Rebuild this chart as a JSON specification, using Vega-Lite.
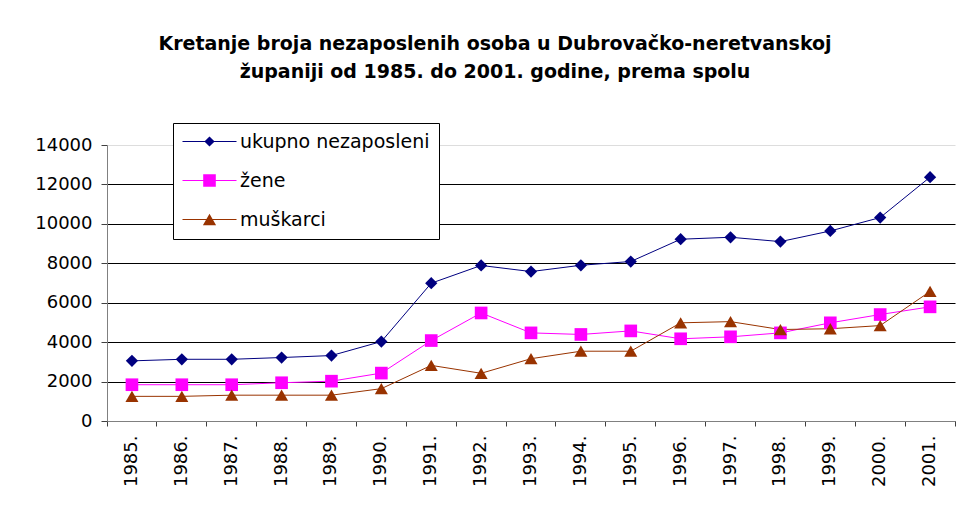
{
  "$schema": "https://vega.github.io/schema/vega-lite/v6.json",
  "autosize": {"type": "none"},
  "padding": {"left": 107, "top": 145, "right": 17, "bottom": 90},
  "width": 848,
  "height": 276,
  "background": "white",
  "title": {
    "text": ["Kretanje broja nezaposlenih osoba u Dubrovačko-neretvanskoj", "županiji od 1985. do 2001. godine, prema spolu"],
    "font": "DejaVu Sans",
    "fontSize": 19,
    "fontWeight": "bold",
    "color": "black",
    "lineHeight": 28,
    "anchor": "middle",
    "frame": "group",
    "dx": -36,
    "offset": 41
  },
  "config": {
    "view": {"stroke": null},
    "axis": {
      "labelFont": "DejaVu Sans",
      "labelFontSize": 18,
      "labelColor": "black",
      "domainColor": "#808080",
      "tickColor": "#404040",
      "title": null
    }
  },
  "data": {
    "values": [
      {"year": "1985.", "series": "ukupno nezaposleni", "value": 3050},
      {"year": "1986.", "series": "ukupno nezaposleni", "value": 3130},
      {"year": "1987.", "series": "ukupno nezaposleni", "value": 3130},
      {"year": "1988.", "series": "ukupno nezaposleni", "value": 3220},
      {"year": "1989.", "series": "ukupno nezaposleni", "value": 3320},
      {"year": "1990.", "series": "ukupno nezaposleni", "value": 4030},
      {"year": "1991.", "series": "ukupno nezaposleni", "value": 6990},
      {"year": "1992.", "series": "ukupno nezaposleni", "value": 7890},
      {"year": "1993.", "series": "ukupno nezaposleni", "value": 7580},
      {"year": "1994.", "series": "ukupno nezaposleni", "value": 7900},
      {"year": "1995.", "series": "ukupno nezaposleni", "value": 8090},
      {"year": "1996.", "series": "ukupno nezaposleni", "value": 9220},
      {"year": "1997.", "series": "ukupno nezaposleni", "value": 9320},
      {"year": "1998.", "series": "ukupno nezaposleni", "value": 9100},
      {"year": "1999.", "series": "ukupno nezaposleni", "value": 9640},
      {"year": "2000.", "series": "ukupno nezaposleni", "value": 10320},
      {"year": "2001.", "series": "ukupno nezaposleni", "value": 12370},
      {"year": "1985.", "series": "žene", "value": 1840},
      {"year": "1986.", "series": "žene", "value": 1840},
      {"year": "1987.", "series": "žene", "value": 1840},
      {"year": "1988.", "series": "žene", "value": 1940},
      {"year": "1989.", "series": "žene", "value": 2020},
      {"year": "1990.", "series": "žene", "value": 2430},
      {"year": "1991.", "series": "žene", "value": 4080},
      {"year": "1992.", "series": "žene", "value": 5480},
      {"year": "1993.", "series": "žene", "value": 4470},
      {"year": "1994.", "series": "žene", "value": 4390},
      {"year": "1995.", "series": "žene", "value": 4570},
      {"year": "1996.", "series": "žene", "value": 4170},
      {"year": "1997.", "series": "žene", "value": 4270},
      {"year": "1998.", "series": "žene", "value": 4470},
      {"year": "1999.", "series": "žene", "value": 4980},
      {"year": "2000.", "series": "žene", "value": 5400},
      {"year": "2001.", "series": "žene", "value": 5790},
      {"year": "1985.", "series": "muškarci", "value": 1250},
      {"year": "1986.", "series": "muškarci", "value": 1250},
      {"year": "1987.", "series": "muškarci", "value": 1310},
      {"year": "1988.", "series": "muškarci", "value": 1310},
      {"year": "1989.", "series": "muškarci", "value": 1310},
      {"year": "1990.", "series": "muškarci", "value": 1640},
      {"year": "1991.", "series": "muškarci", "value": 2820},
      {"year": "1992.", "series": "muškarci", "value": 2420},
      {"year": "1993.", "series": "muškarci", "value": 3160},
      {"year": "1994.", "series": "muškarci", "value": 3540},
      {"year": "1995.", "series": "muškarci", "value": 3540},
      {"year": "1996.", "series": "muškarci", "value": 4980},
      {"year": "1997.", "series": "muškarci", "value": 5040},
      {"year": "1998.", "series": "muškarci", "value": 4640},
      {"year": "1999.", "series": "muškarci", "value": 4680},
      {"year": "2000.", "series": "muškarci", "value": 4840},
      {"year": "2001.", "series": "muškarci", "value": 6570}
    ]
  },
  "encoding": {
    "x": {
      "field": "year",
      "type": "ordinal",
      "scale": {"type": "band", "paddingInner": 0, "paddingOuter": 0},
      "axis": {
        "labelAngle": -90,
        "labelPadding": 9,
        "tickSize": 5,
        "bandPosition": 1,
        "tickExtra": true,
        "grid": false
      }
    },
    "y": {
      "field": "value",
      "type": "quantitative",
      "scale": {"domain": [0, 14000], "nice": false},
      "axis": {
        "values": [0, 2000, 4000, 6000, 8000, 10000, 12000, 14000],
        "format": "d",
        "tickSize": 6,
        "labelPadding": 9,
        "grid": true,
        "gridColor": {"condition": {"test": "datum.value == 14000", "value": "#dddddd"}, "value": "black"},
        "gridOpacity": 1,
        "gridWidth": 1
      }
    },
    "color": {
      "field": "series",
      "type": "nominal",
      "scale": {"domain": ["ukupno nezaposleni", "žene", "muškarci"], "range": ["#000080", "#FF00FF", "#993300"]},
      "legend": {
        "title": null,
        "orient": "none",
        "legendX": 66,
        "legendY": -22,
        "fillColor": "white",
        "strokeColor": "black",
        "padding": 9,
        "labelFont": "DejaVu Sans",
        "labelFontSize": 19,
        "labelColor": "black",
        "labelLimit": 400,
        "labelOffset": 21,
        "rowPadding": 19,
        "symbolSize": 144,
        "symbolStrokeWidth": 0,
        "symbolOffset": 18,
        "encode": {
          "symbols": {
            "update": {
              "fill": {"signal": "scale('color', datum.value)"},
              "opacity": {"value": 1},
              "shape": {"signal": "datum.value === 'ukupno nezaposleni' ? 'M-4.5,-0.09H4.5V0.09H-4.5Z M0,-0.85L0.85,0L0,0.85L-0.85,0Z' : datum.value === 'žene' ? 'M-4.5,-0.09H4.5V0.09H-4.5Z M-1.05,-1.05H1.05V1.05H-1.05Z' : 'M-4.5,-0.09H4.5V0.09H-4.5Z M0,-0.95L1.1,0.95H-1.1Z'"}
            }
          }
        }
      }
    }
  },
  "layer": [
    {
      "mark": {"type": "line", "strokeWidth": 1},
      "encoding": {
        "detail": {"field": "series"}
      }
    },
    {
      "transform": [{"filter": "datum.series === 'ukupno nezaposleni'"}],
      "mark": {"type": "point", "shape": "diamond", "filled": true, "opacity": 1, "size": 150, "strokeWidth": 0}
    },
    {
      "transform": [{"filter": "datum.series === 'žene'"}],
      "mark": {"type": "point", "shape": "square", "filled": true, "opacity": 1, "size": 160, "strokeWidth": 0}
    },
    {
      "transform": [{"filter": "datum.series === 'muškarci'"}],
      "mark": {"type": "point", "shape": "triangle-up", "filled": true, "opacity": 1, "size": 170, "strokeWidth": 0}
    }
  ]
}
